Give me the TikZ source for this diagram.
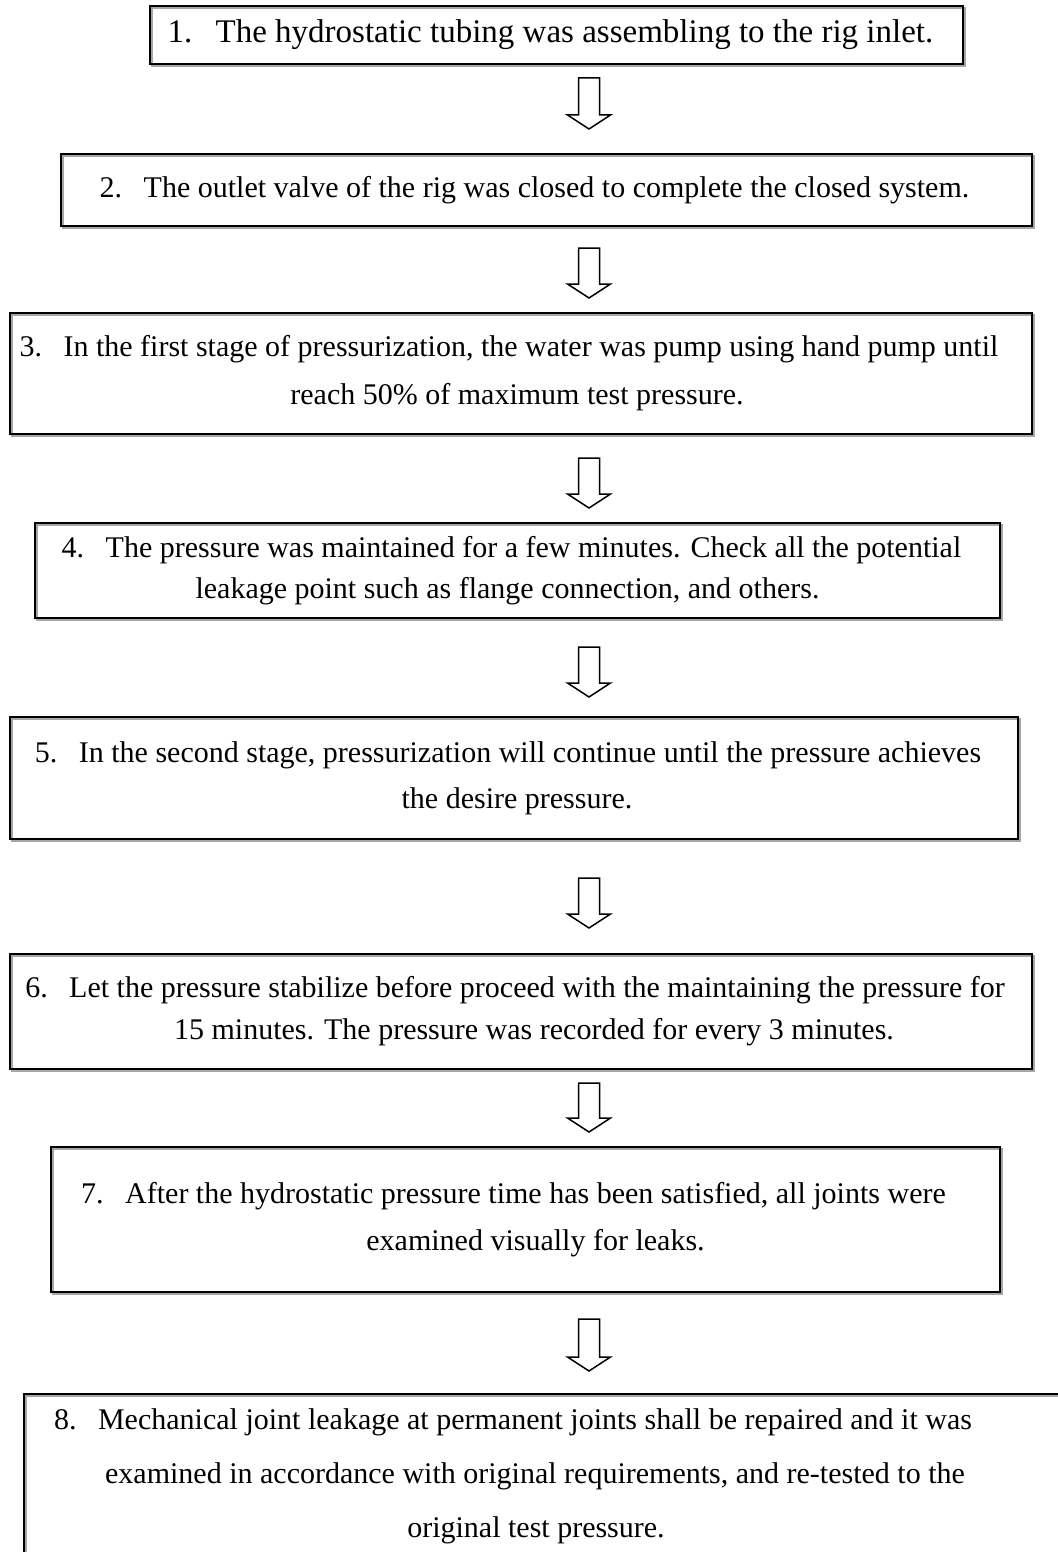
\documentclass[tikz,border=0pt]{standalone}
\usepackage{fontspec}
\setmainfont{Liberation Serif}
\usepackage{tikz}
\usetikzlibrary{calc}
\newcommand{\stepno}[1]{\makebox[22pt][l]{#1}}
\newcommand{\stepline}[2]{\makebox[0pt]{\hspace*{#1pt}#2}}

\begin{document}
\begin{tikzpicture}[x=0.5pt, y=-0.5pt,
  stepbox/.style={draw, line width=1pt, inner sep=0pt, align=center,
    font=\fontsize{15}{#1}\selectfont,
    preaction={draw=gray!70, line width=1pt, transform canvas={shift={(0.8pt,-0.8pt)}}}},
  stepbox/.default=24pt,
  flowarrow/.style={draw, line width=0.75pt, line join=miter,
    to path={let \p1=(\tikztostart), \p2=(\tikztotarget) in
      (\x1-5.25pt,\y1) -- (\x1+5.25pt,\y1) -- (\x1+5.25pt,\y2+7pt) -- (\x1+10.75pt,\y2+7pt)
      -- (\x1,\y2) -- (\x1-10.75pt,\y2+7pt) -- (\x1-5.25pt,\y2+7pt) -- cycle}}]

  \useasboundingbox (0,0) rectangle (1058,1552);
  \clip (0,0) rectangle (1058,1552);

  \coordinate (ax) at (589,0);

  \node[stepbox, font=\fontsize{16.5}{24}\selectfont, minimum width=406.5pt, minimum height=29pt] (s1) at (556.5,35)
    {\stepline{-6}{\makebox[24pt][l]{1.}The hydrostatic tubing was assembling to the rig inlet.}};
  \node[stepbox, minimum width=485.5pt, minimum height=36pt] (s2) at (546.5,190)
    {\stepline{-12}{\stepno{2.}The outlet valve of the rig was closed to complete the closed system.}};
  \node[stepbox=24pt, minimum width=511pt, minimum height=60.5pt] (s3) at (521,373.5)
    {\stepline{-12}{\stepno{3.}In the first stage of pressurization, the water was pump using hand pump until}\\
     \stepline{-4}{reach 50\% of maximum test pressure.}};
  \node[stepbox=20.5pt, minimum width=482.5pt, minimum height=47.5pt] (s4) at (517.5,570.5)
    {\stepline{-6}{\stepno{4.}The pressure was maintained for a few minutes. Check all the potential}\\
     \stepline{-10}{leakage point such as flange connection, and others.}};
  \node[stepbox=23pt, minimum width=504pt, minimum height=61pt] (s5) at (514,778)
    {\stepline{-6}{\stepno{5.}In the second stage, pressurization will continue until the pressure achieves}\\
     \stepline{3}{the desire pressure.}};
  \node[stepbox=21pt, minimum width=511pt, minimum height=57.5pt] (s6) at (521,1011.5)
    {\stepline{-6}{\stepno{6.}Let the pressure stabilize before proceed with the maintaining the pressure for}\\
     \stepline{13}{15 minutes. The pressure was recorded for every 3 minutes.}};
  \node[stepbox=23.5pt, minimum width=474.5pt, minimum height=72.5pt] (s7) at (525.5,1219.5)
    {\stepline{-12}{\stepno{7.}After the hydrostatic pressure time has been satisfied, all joints were}\\
     \stepline{10}{examined visually for leaks.}};
  \node[stepbox=27pt, minimum width=533pt, minimum height=82pt] (s8) at (557,1476)
    {\stepline{-44}{\stepno{8.}Mechanical joint leakage at permanent joints shall be repaired and it was}\\
     \stepline{-22}{examined in accordance with original requirements, and re-tested to the}\\
     \stepline{-21}{original test pressure.}};

  \draw[flowarrow] ($(s1.south -| ax)+(0,13)$) to ($(s2.north -| ax)+(0,-24)$); %% 1->2
  \draw[flowarrow] ($(s2.south -| ax)+(0,21)$) to ($(s3.north -| ax)+(0,-14)$); %% 2->3
  \draw[flowarrow] ($(s3.south -| ax)+(0,23)$) to ($(s4.north -| ax)+(0,-14)$); %% 3->4
  \draw[flowarrow] ($(s4.south -| ax)+(0,28)$) to ($(s5.north -| ax)+(0,-19)$); %% 4->5
  \draw[flowarrow] ($(s5.south -| ax)+(0,38)$) to ($(s6.north -| ax)+(0,-25)$); %% 5->6
  \draw[flowarrow] ($(s6.south -| ax)+(0,13)$) to ($(s7.north -| ax)+(0,-14)$); %% 6->7
  \draw[flowarrow] ($(s7.south -| ax)+(0,26)$) to ($(s8.north -| ax)+(0,-22)$); %% 7->8
\end{tikzpicture}
\end{document}
